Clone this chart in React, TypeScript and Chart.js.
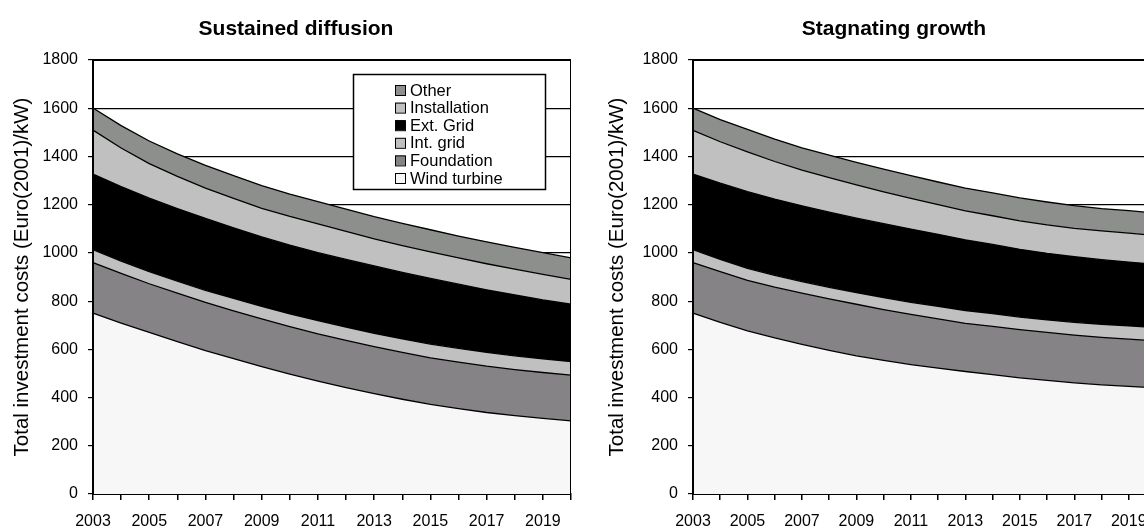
import React, { useEffect, useRef } from 'react';
import { Chart, registerables } from 'chart.js';

Chart.register(...registerables);

// ---- Data ----
const years = ['2003', '2004', '2005', '2006', '2007', '2008', '2009', '2010', '2011', '2012', '2013', '2014', '2015', '2016', '2017', '2018', '2019', '2020'];
const seriesLabels = ['Wind turbine', 'Foundation', 'Int. grid', 'Ext. Grid', 'Installation', 'Other'];
const seriesColors = ['#f7f7f7', '#858385', '#c0c0c0', '#000000', '#c0c0c0', '#8d8f8c'];
const yAxisTitle = 'Total investment costs (Euro(2001)/kW)';
const leftTitle = 'Sustained diffusion';
const rightTitle = 'Stagnating growth';

// Sustained diffusion (Euro(2001)/kW per component)
const sdWind = [750, 709, 670, 632, 595, 561, 528, 497, 468, 441, 416, 393, 372, 354, 338, 325, 314, 303];
const sdFoundation = [210, 206, 202, 201, 200, 199, 198, 197, 196, 196, 195, 194, 193, 193, 192, 191, 190, 190];
const sdIntGrid = [53, 51, 50, 50, 50, 51, 52, 53, 55, 55, 55, 56, 57, 57, 57, 57, 56, 56];
const sdExtGrid = [314, 309, 305, 301, 298, 293, 288, 285, 282, 281, 280, 276, 272, 266, 260, 253, 245, 238];
const sdInstallation = [182, 160, 143, 133, 126, 122, 119, 119, 119, 116, 112, 111, 110, 109, 108, 107, 106, 103];
const sdOther = [92, 93, 94, 94, 94, 94, 94, 93, 93, 92, 92, 92, 92, 91, 91, 90, 90, 89];

// Stagnating growth
const sgWind = [750, 712, 677, 648, 621, 596, 573, 554, 537, 522, 508, 495, 482, 471, 461, 453, 446, 440];
const sgFoundation = [210, 210, 209, 210, 212, 213, 214, 211, 208, 204, 200, 200, 200, 199, 198, 197, 196, 195];
const sgIntGrid = [53, 51, 50, 49, 48, 48, 48, 49, 50, 52, 53, 53, 52, 52, 53, 54, 55, 55];
const sgExtGrid = [314, 316, 318, 316, 314, 312, 309, 307, 304, 299, 293, 287, 281, 276, 272, 268, 265, 262];
const sgInstallation = [181, 172, 165, 156, 148, 143, 138, 132, 127, 123, 120, 119, 118, 118, 118, 119, 120, 120];
const sgOther = [92, 92, 93, 93, 93, 93, 93, 94, 94, 94, 95, 95, 95, 95, 94, 93, 93, 93];

const FONT = "'Liberation Sans', Arial, sans-serif";

const framePlugin = {
  id: 'frame',
  afterDatasetsDraw(chart: any) {
    const { ctx, chartArea } = chart;
    ctx.save();
    ctx.strokeStyle = '#000';
    ctx.lineWidth = 1;
    ctx.strokeRect(chartArea.left + 0.5, chartArea.top + 0.5, chartArea.right - chartArea.left - 1, chartArea.bottom - chartArea.top);
    ctx.restore();
  },
};

const insideLegendPlugin = {
  id: 'insideLegend',
  afterDraw(chart: any, _args: any, opts: any) {
    if (!opts || !opts.show) return;
    const { ctx, chartArea } = chart;
    const boxW = 192;
    const boxH = 115;
    const x = chartArea.right - 26 - boxW;
    const y = chartArea.top + 14;
    ctx.save();
    ctx.fillStyle = '#fff';
    ctx.fillRect(x, y, boxW, boxH);
    ctx.strokeStyle = '#000';
    ctx.lineWidth = 1.5;
    ctx.strokeRect(x + 0.5, y + 0.5, boxW, boxH);
    const items = chart.data.datasets.map((d: any) => ({ label: d.label, color: d.backgroundColor })).reverse();
    ctx.font = `16.5px ${FONT}`;
    ctx.textBaseline = 'middle';
    ctx.textAlign = 'left';
    items.forEach((it: any, i: number) => {
      const cy = y + 16 + i * 17.6;
      const sx = x + 42;
      ctx.fillStyle = it.color;
      ctx.fillRect(sx, cy - 5, 10, 10);
      ctx.strokeStyle = '#000';
      ctx.lineWidth = 1;
      ctx.strokeRect(sx + 0.5, cy - 5 + 0.5, 10, 10);
      ctx.fillStyle = '#000';
      ctx.fillText(it.label, sx + 15, cy + 1);
    });
    ctx.restore();
  },
};

type PanelProps = {
  title: string;
  series: number[][];
  width: number;
  left: number;
  rightGap: number;
  yTitlePad: number;
  showLegend: boolean;
};

function Panel({ title, series, width, left, rightGap, yTitlePad, showLegend }: PanelProps) {
  const ref = useRef<HTMLCanvasElement | null>(null);
  useEffect(() => {
    if (!ref.current) return;
    const datasets = series.map((vals, i) => ({
      label: seriesLabels[i],
      data: vals,
      backgroundColor: seriesColors[i],
      borderColor: '#000',
      borderWidth: 1.3,
      pointRadius: 0,
      tension: 0,
      fill: i === 0 ? 'origin' : '-1',
    }));
    const chart = new Chart(ref.current, {
      type: 'line',
      data: { labels: years, datasets },
      options: {
        animation: false,
        responsive: false,
        devicePixelRatio: 1,
        layout: { padding: 0 },
        plugins: {
          legend: { display: false },
          tooltip: { enabled: false },
          title: {
            display: true,
            text: title,
            color: '#000',
            font: { family: FONT, size: 21, weight: 'bold' },
            padding: { top: 17, bottom: 17.8 },
          },
          insideLegend: { show: showLegend },
        } as any,
        scales: {
          x: {
            type: 'category',
            offset: false,
            grid: { display: true, drawOnChartArea: false, drawTicks: true, tickLength: 6, color: '#000', lineWidth: 1.5 },
            border: { display: true, color: '#000', width: 2 },
            ticks: {
              autoSkip: false,
              maxRotation: 0,
              minRotation: 0,
              padding: 12,
              color: '#000',
              font: { family: FONT, size: 16 },
              callback: (_v: any, idx: number) => (idx % 2 === 0 ? years[idx] : ''),
            },
            afterFit: (scale: any) => {
              scale.height = 35;
            },
          },
          y: {
            stacked: true,
            min: 0,
            max: 1800,
            ticks: {
              stepSize: 200,
              padding: 10,
              color: '#000',
              font: { family: FONT, size: 16 },
              callback: (v: any) => String(v),
            },
            grid: { color: '#000', lineWidth: 1.2, tickLength: 5, drawTicks: true },
            border: { display: true, color: '#000', width: 2 },
            title: {
              display: true,
              text: yAxisTitle,
              color: '#000',
              font: { family: FONT, size: 20.5 },
              padding: { top: yTitlePad, bottom: 0 },
            },
            afterFit: (scale: any) => {
              scale.width = 93;
            },
          },
          yGap: {
            type: 'linear',
            position: 'right',
            display: true,
            grid: { display: false, drawTicks: false },
            border: { display: false },
            ticks: { display: false },
            afterFit: (scale: any) => {
              scale.width = rightGap;
            },
          },
        },
      } as any,
      plugins: [framePlugin, insideLegendPlugin],
    });
    return () => chart.destroy();
  }, []);
  return (
    <canvas
      ref={ref}
      width={width}
      height={529}
      style={{ position: 'absolute', left, top: 0, width, height: 529 }}
    />
  );
}

export default function App() {
  return (
    <div style={{ position: 'absolute', left: 0, top: 0, width: 1144, height: 529, overflow: 'hidden', background: '#fff' }}>
      <Panel
        title={leftTitle}
        series={[sdWind, sdFoundation, sdIntGrid, sdExtGrid, sdInstallation, sdOther]}
        width={592}
        left={0}
        rightGap={21}
        yTitlePad={10}
        showLegend={true}
      />
      <Panel
        title={rightTitle}
        series={[sgWind, sgFoundation, sgIntGrid, sgExtGrid, sgInstallation, sgOther]}
        width={588}
        left={600}
        rightGap={32}
        yTitlePad={5}
        showLegend={false}
      />
    </div>
  );
}
